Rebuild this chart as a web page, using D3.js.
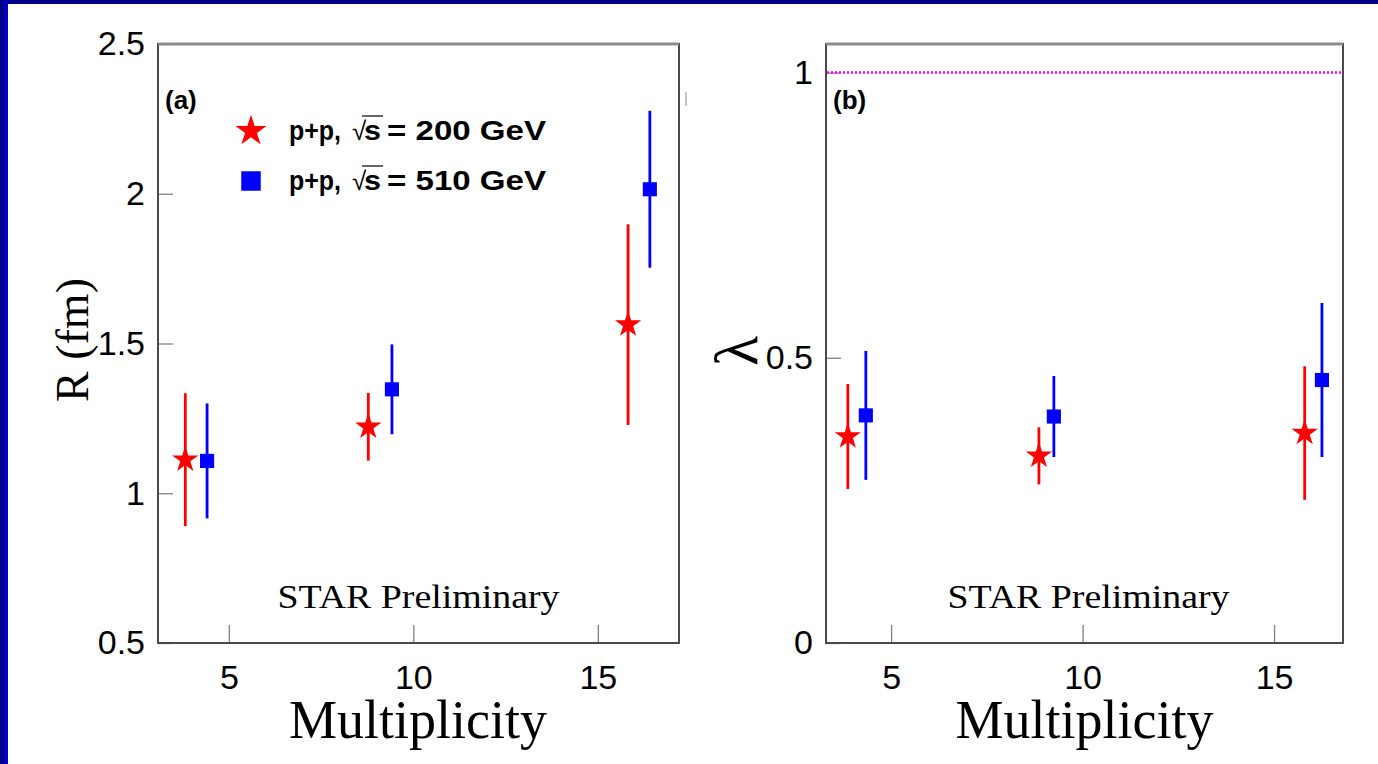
<!DOCTYPE html>
<html><head><meta charset="utf-8">
<script src="https://cdn.jsdelivr.net/npm/d3@7"></script>
<style>body{margin:0;background:#fff;overflow:hidden} svg{display:block}</style>
</head><body>
<svg id="c" width="1378" height="764"></svg>
<script>
// ---------- data ----------
const xTicks = [5, 10, 15];
const rTicks = [0.5, 1, 1.5, 2, 2.5];
const lamTicks = [0, 0.5, 1];

// panel (a): radius R (fm) vs multiplicity
const multR200 = [3.82, 8.78, 15.82];
const R200     = [1.112, 1.222, 1.563];
const R200err  = [0.222, 0.113, 0.335];
const multR510 = [4.41, 9.42, 16.41];
const R510     = [1.108, 1.347, 2.015];
const R510err  = [0.192, 0.150, 0.262];

// panel (b): lambda vs multiplicity
const multL200 = [3.87, 8.86, 15.80];
const L200     = [0.362, 0.328, 0.368];
const L200err  = [0.092, 0.050, 0.117];
const multL510 = [4.34, 9.25, 16.25];
const L510     = [0.399, 0.397, 0.461];
const L510err  = [0.113, 0.071, 0.135];

const legendLabels = ["200", "510"];

// ---------- drawing ----------
const svg = d3.select("#c");
svg.append("rect").attr("width", 1378).attr("height", 764).attr("fill", "#fff");
const defs = svg.append("defs");
const grad = defs.append("linearGradient").attr("id", "lg").attr("x1", 0).attr("x2", 1).attr("y1", 0).attr("y2", 0);
grad.append("stop").attr("offset", 0).attr("stop-color", "#00007a");
grad.append("stop").attr("offset", 1).attr("stop-color", "#0000d0");
svg.append("rect").attr("x", 0).attr("y", 0).attr("width", 1378).attr("height", 4).attr("fill", "#00008a");
svg.append("rect").attr("x", 0).attr("y", 0).attr("width", 8).attr("height", 764).attr("fill", "url(#lg)");

const TOP = 44, BOTTOM = 643;
const sans = "'Liberation Sans', Arial, Helvetica, sans-serif";
const serif = "'Liberation Serif', 'Times New Roman', serif";

function panel(cfg) {
  const x = d3.scaleLinear().domain(cfg.xDomain).range([cfg.left, cfg.right]);
  const y = d3.scaleLinear().domain(cfg.yDomain).range([BOTTOM, TOP]);
  const g = svg.append("g");

  const gx = g.append("g").attr("transform", `translate(0,${BOTTOM})`)
    .call(d3.axisBottom(x).tickValues(xTicks).tickSize(-18).tickSizeOuter(0).tickPadding(22));
  const gy = g.append("g").attr("transform", `translate(${cfg.left},0)`)
    .call(d3.axisLeft(y).tickValues(cfg.yTicks).tickSize(-15).tickSizeOuter(0).tickPadding(13)
      .tickFormat(d => String(d)));
  [gx, gy].forEach(a => {
    a.select(".domain").remove();
    a.selectAll(".tick line").attr("stroke", "#808080").attr("stroke-width", 1.3);
    a.selectAll(".tick text").attr("fill", "#000").style("font-family", sans).style("font-size", "34px");
  });

  // frame
  g.append("rect").attr("x", cfg.left).attr("y", TOP).attr("width", cfg.right - cfg.left).attr("height", BOTTOM - TOP)
    .attr("fill", "none").attr("stroke", "#4a4a4a").attr("stroke-width", 2);
  g.append("line").attr("x1", cfg.left).attr("x2", cfg.right).attr("y1", TOP).attr("y2", TOP)
    .attr("stroke", "#8c8c8c").attr("stroke-width", 3);

  // extra reference line
  if (cfg.refLine !== undefined) {
    g.append("line").attr("x1", cfg.left + 1).attr("x2", cfg.right - 1)
      .attr("y1", y(cfg.refLine)).attr("y2", y(cfg.refLine))
      .attr("stroke", "#ff00ff").attr("stroke-width", 2.5).attr("stroke-dasharray", "2,2");
  }

  // series
  cfg.series.forEach(s => {
    const pts = s.xs.map((xv, i) => ({ x: xv, v: s.vs[i], e: s.es[i] }));
    g.append("g").selectAll("line").data(pts).join("line")
      .attr("x1", d => x(d.x)).attr("x2", d => x(d.x))
      .attr("y1", d => y(d.v - d.e)).attr("y2", d => y(d.v + d.e))
      .attr("stroke", s.color).attr("stroke-width", 2.8);
    g.append("g").selectAll("path").data(pts).join("path")
      .attr("transform", d => `translate(${x(d.x)},${y(d.v)})`)
      .attr("d", d3.symbol().type(s.symbol).size(s.size))
      .attr("fill", s.color);
  });

  // labels
  g.append("text").attr("x", cfg.left + 7).attr("y", 109).text(cfg.tag)
    .style("font-family", sans).style("font-weight", "bold").style("font-size", "26px");
  g.append("text").attr("x", (cfg.left + cfg.right) / 2 + cfg.starDx).attr("y", 608).attr("text-anchor", "middle")
    .text("STAR Preliminary").style("font-family", serif).style("font-size", "33px")
    .attr("textLength", 282).attr("lengthAdjust", "spacingAndGlyphs");
  g.append("text").attr("x", (cfg.left + cfg.right) / 2 + cfg.titleDx).attr("y", 738).attr("text-anchor", "middle")
    .text("Multiplicity").style("font-family", serif).style("font-size", "54px");
  g.append("text").attr("transform", `translate(${cfg.yTitleX},${cfg.yTitleY}) rotate(-90)`).attr("text-anchor", "middle")
    .text(cfg.yTitle).style("font-family", serif).style("font-size", cfg.yTitleSize);
  return { x, y, g };
}

panel({
  left: 158, right: 679, xDomain: [3.08, 17.2], yDomain: [0.5, 2.5], yTicks: rTicks,
  tag: "(a)", starDx: 0, titleDx: -0.5, yTitle: "R (fm)", yTitleX: 88, yTitleY: 340, yTitleSize: "46px",
  series: [
    { xs: multR200, vs: R200, es: R200err, color: "#ff0000", symbol: d3.symbolStar, size: 215 },
    { xs: multR510, vs: R510, es: R510err, color: "#0000ff", symbol: d3.symbolSquare, size: 200 }
  ]
});

panel({
  left: 826, right: 1343, xDomain: [3.30, 16.80], yDomain: [0, 1.05], yTicks: lamTicks, refLine: 1,
  tag: "(b)", starDx: 4, titleDx: 0, yTitle: "λ", yTitleX: 757, yTitleY: 351, yTitleSize: "62px",
  series: [
    { xs: multL200, vs: L200, es: L200err, color: "#ff0000", symbol: d3.symbolStar, size: 215 },
    { xs: multL510, vs: L510, es: L510err, color: "#0000ff", symbol: d3.symbolSquare, size: 200 }
  ]
});

// legend (panel a)
const legend = svg.append("g");
const legRows = [
  { y: 131, color: "#ff0000", symbol: d3.symbolStar, size: 300, label: legendLabels[0] },
  { y: 181, color: "#0000ff", symbol: d3.symbolSquare, size: 380, label: legendLabels[1] }
];
legRows.forEach(r => {
  legend.append("path").attr("transform", `translate(251,${r.y})`)
    .attr("d", d3.symbol().type(r.symbol).size(r.size)).attr("fill", r.color);
  const base = r.y + 9;
  const t = (x, s, w) => legend.append("text").attr("x", x).attr("y", base).text(s)
    .style("font-family", sans).style("font-weight", w).style("font-size", "27px");
  t(289, "p+p,", "bold").attr("textLength", 52).attr("lengthAdjust", "spacingAndGlyphs");
  t(352, "√", "normal").style("font-size", "26px");
  t(364, "s", "bold").attr("textLength", 17).attr("lengthAdjust", "spacingAndGlyphs");
  legend.append("line").attr("x1", 362).attr("x2", 383).attr("y1", base - 24).attr("y2", base - 24)
    .attr("stroke", "#000").attr("stroke-width", 1.2);
  t(387, "= " + r.label + " GeV", "bold").attr("textLength", 159).attr("lengthAdjust", "spacingAndGlyphs");
});

// small stray mark right of panel (a)
svg.append("line").attr("x1", 686).attr("x2", 686).attr("y1", 92).attr("y2", 106)
  .attr("stroke", "#b0b0b0").attr("stroke-width", 1.5);
</script>
</body></html>
